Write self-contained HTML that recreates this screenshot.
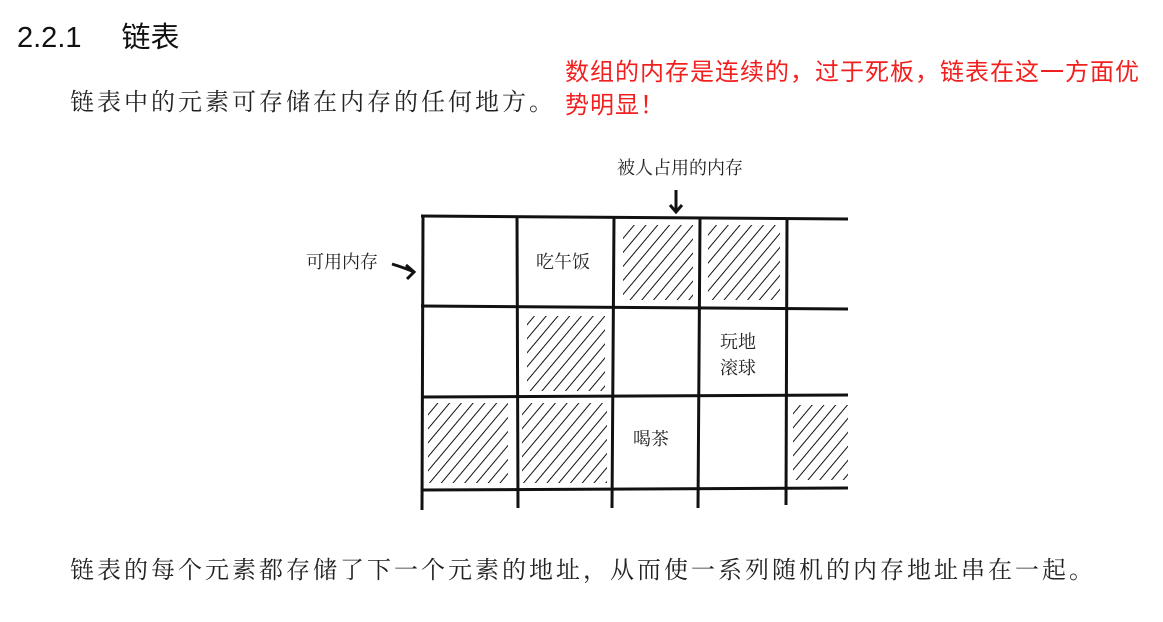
<!DOCTYPE html>
<html><head><meta charset="utf-8"><style>
body{margin:0;width:1163px;height:622px;background:#fff;position:relative;overflow:hidden;font-family:"Liberation Sans","Noto Sans CJK SC",sans-serif}
.t{position:absolute;white-space:nowrap}
.h{top:14px;left:17px;font-size:29px;color:#111}
.p{font-family:"Liberation Serif","Noto Serif CJK SC",serif;font-size:24px;letter-spacing:3px;color:#222}
.r{color:#f21f1f;font-size:24px;letter-spacing:1px;left:565px}
</style></head><body>
<div class="t h">2.2.1<span style="display:inline-block;width:40px"></span>链表</div>
<div class="t p" style="left:70px;top:82px">链表中的元素可存储在内存的任何地方。</div>
<div class="t r" style="top:52px">数组的内存是连续的，过于死板，链表在这一方面优</div>
<div class="t r" style="top:85px">势明显！</div>
<svg class="t" style="left:0;top:0" width="1163" height="622">
<defs>
<pattern id="hp" width="9" height="9" patternUnits="userSpaceOnUse" patternTransform="rotate(40)">
<line x1="0" y1="0" x2="0" y2="9" stroke="#111" stroke-width="2"/>
</pattern>
</defs>
<g fill="url(#hp)">
<rect x="623" y="225" width="70" height="75"/>
<rect x="708" y="225" width="72" height="75"/>
<rect x="527" y="316" width="78" height="75"/>
<rect x="428" y="403" width="80" height="80"/>
<rect x="522" y="403" width="85" height="80"/>
<rect x="793" y="405" width="55" height="75"/>
</g>
<g stroke="#111" stroke-width="3" fill="none">
<line x1="421" y1="216" x2="848" y2="219"/>
<line x1="421" y1="306" x2="848" y2="309"/>
<line x1="421" y1="397" x2="848" y2="395"/>
<line x1="421" y1="490" x2="848" y2="488"/>
<line x1="423" y1="216" x2="422" y2="510"/>
<line x1="517" y1="216" x2="518" y2="508"/>
<line x1="614" y1="218" x2="612" y2="508"/>
<line x1="700" y1="218" x2="698" y2="508"/>
<line x1="787" y1="219" x2="786" y2="505"/>
<path d="M392 264 Q405 268 414 272 M406 265 L414 272 L407 279"/>
<path d="M676 190 L676 212 M670 205 L676 212 L682 205"/>
</g>
<g font-family="Noto Serif CJK SC,serif" font-size="18" fill="#222">
<text x="617" y="174">被人占用的内存</text>
<text x="306" y="268">可用内存</text>
<text x="536" y="268">吃午饭</text>
<text x="720" y="348">玩地</text>
<text x="720" y="374">滚球</text>
<text x="633" y="445">喝茶</text>
</g>
</svg>
<div class="t p" style="left:70px;top:550px">链表的每个元素都存储了下一个元素的地址，从而使一系列随机的内存地址串在一起。</div>
</body></html>
